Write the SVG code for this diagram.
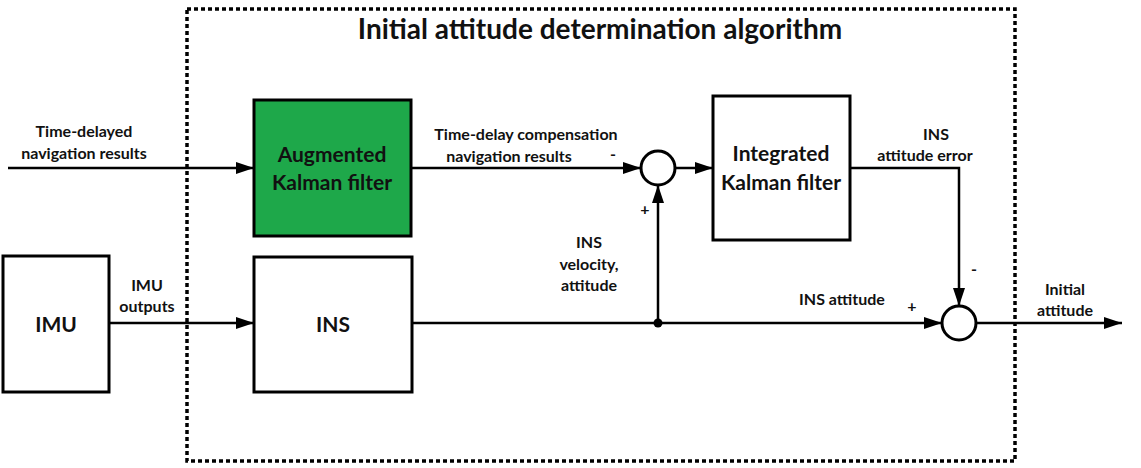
<svg xmlns="http://www.w3.org/2000/svg" width="1141" height="468" viewBox="0 0 1141 468">
<defs>
<marker id="arr" viewBox="0 0 18 12" refX="18" refY="6" markerWidth="18" markerHeight="12" markerUnits="userSpaceOnUse" orient="auto">
<path d="M0,0 L18,6 L0,12 z" fill="#000"/>
</marker>
<style>
text{font-family:Lato,"Liberation Sans",sans-serif;font-weight:bold;fill:#111;text-anchor:middle}
.lbl{font-size:16px}
.box{font-size:21px}
.blk{fill:#fff;stroke:#000;stroke-width:3}
.ln{fill:none;stroke:#000;stroke-width:2.5}
</style>
</defs>
<rect width="1141" height="468" fill="#fff"/>
<g id="frame">
<rect x="187" y="9" width="828" height="452" fill="none" stroke="#000" stroke-width="3.5" stroke-dasharray="4 3"/>
<text x="600" y="39" style="font-size:28px">Initial attitude determination algorithm</text>
</g>
<g id="connectors">
<line class="ln" x1="8" y1="168" x2="254" y2="168" marker-end="url(#arr)"/>
<line class="ln" x1="411" y1="168" x2="641" y2="168" marker-end="url(#arr)"/>
<line class="ln" x1="675" y1="168" x2="713" y2="168" marker-end="url(#arr)"/>
<line class="ln" x1="109" y1="323" x2="254" y2="323" marker-end="url(#arr)"/>
<line class="ln" x1="412" y1="323" x2="942" y2="323" marker-end="url(#arr)"/>
<line class="ln" x1="658" y1="323" x2="658" y2="185" marker-end="url(#arr)"/>
<polyline class="ln" points="850,168 959,168 959,306" marker-end="url(#arr)"/>
<line class="ln" x1="976" y1="323" x2="1122" y2="323" marker-end="url(#arr)"/>
<circle cx="658" cy="323" r="4.5" fill="#000"/>
</g>
<g id="sum1"><circle cx="658" cy="168" r="17" class="blk"/></g>
<g id="sum2"><circle cx="959" cy="323" r="17" class="blk"/></g>
<g id="akf">
<rect x="254" y="100" width="157" height="136" fill="#1ea84a" stroke="#000" stroke-width="3"/>
<text class="box" x="332" y="162">Augmented</text>
<text class="box" x="332" y="190">Kalman filter</text>
</g>
<g id="ikf">
<rect x="713" y="96" width="137" height="144" class="blk"/>
<text class="box" x="781" y="161">Integrated</text>
<text class="box" x="781" y="190">Kalman filter</text>
</g>
<g id="imu">
<rect x="3" y="256" width="106" height="136" class="blk"/>
<text class="box" x="56" y="332">IMU</text>
</g>
<g id="ins">
<rect x="254" y="257" width="158" height="135" class="blk"/>
<text class="box" x="333" y="332">INS</text>
</g>
<g id="labels">
<text class="lbl" x="84" y="137">Time-delayed</text>
<text class="lbl" x="84" y="159">navigation results</text>
<text class="lbl" x="526" y="140">Time-delay compensation</text>
<text class="lbl" x="509" y="162">navigation results</text>
<text class="lbl" x="613" y="160">-</text>
<text class="lbl" x="645" y="215">+</text>
<text class="lbl" x="589" y="248">INS</text>
<text class="lbl" x="589" y="270">velocity,</text>
<text class="lbl" x="589" y="291">attitude</text>
<text class="lbl" x="147" y="291">IMU</text>
<text class="lbl" x="147" y="312">outputs</text>
<text class="lbl" x="936" y="140">INS</text>
<text class="lbl" x="925" y="161">attitude error</text>
<text class="lbl" x="974" y="275">-</text>
<text class="lbl" x="842" y="305">INS attitude</text>
<text class="lbl" x="912" y="312">+</text>
<text class="lbl" x="1065" y="295">Initial</text>
<text class="lbl" x="1065" y="316">attitude</text>
</g>
</svg>
